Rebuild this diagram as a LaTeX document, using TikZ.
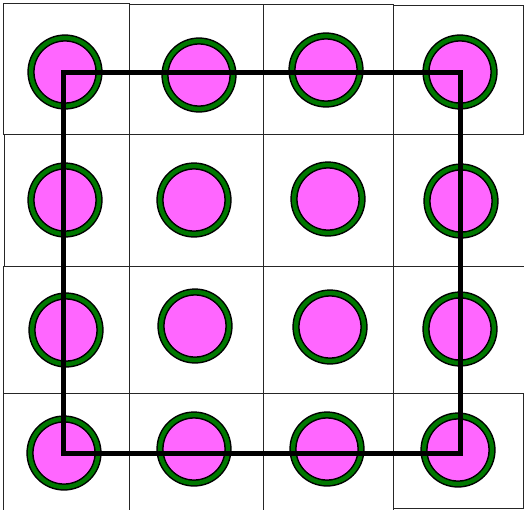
\documentclass[tikz,border=0pt]{standalone}
\usepackage{tikz}
\definecolor{dotfill}{RGB}{255,102,255}
\definecolor{ringgreen}{RGB}{0,120,0}
\tikzset{
  cell/.style={draw=black!85,line width=0.9pt},
  dot/.style={circle,draw=black,line width=1.5pt,double=ringgreen,double distance=4.3pt,fill=dotfill,minimum size=68pt,inner sep=0pt},
  frame/.style={draw=black,line width=5pt,line join=miter}
}
\begin{document}
\begin{tikzpicture}[x=1pt,y=-1pt]
\useasboundingbox (0,0) rectangle (524,509);
% grid cells
\foreach \xa/\ya/\xb/\yb in {3/3/129/134,129/4/263/134,263/4/393/134,393/5/523/134,
  4/134/129/266,129/134/263/266,263/134/393/266,393/134/525/266,
  3/266/129/393,129/266/263/393,263/266/393/393,393/266/525/393,
  3/393/129/511,129/393/263/511,263/393/393/511,393/393/523/508}
  \draw[cell] (\xa,\ya) rectangle (\xb,\yb);
% dots
\foreach \n/\cx/\cy in {11/65/72,12/199/75,13/326/70,14/460/72,
  21/65/200,22/194/200,23/328/199,24/461/201,
  31/66/330,32/195/326,33/330/327,34/460/329,
  41/64/453,42/194/449,43/327/449,44/458/450}
  \node[dot] (d\n) at (\cx,\cy) {};
% big square
\draw[frame] (63,72) rectangle (460,453);
\end{tikzpicture}
\end{document}
